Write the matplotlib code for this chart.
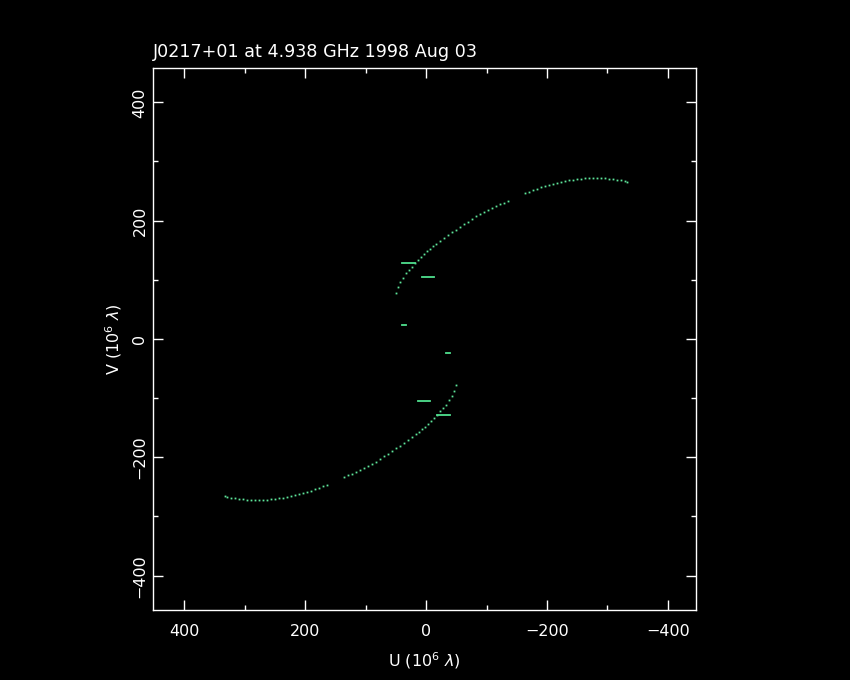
import matplotlib
matplotlib.use("Agg")
import matplotlib.pyplot as plt
from matplotlib.ticker import MultipleLocator

# uv track (upper half), units of 10^6 lambda
u_track = [49.7, 46.4, 43.0, 38.1, 33.1, 28.1, 23.2, 18.2, 13.2, 8.3, 3.3, -1.7,
           -6.6, -11.6, -16.6, -23.2, -29.8, -36.4, -43.0, -49.7, -56.3, -62.9,
           -69.5, -76.2, -82.8, -89.4, -96.0, -102.6, -109.3, -115.9, -122.5,
           -129.1, -135.8,
           -163.9, -170.5, -177.1, -183.8, -190.4, -197.0, -203.6, -210.3, -216.9,
           -223.5, -230.1, -236.8, -243.4, -250.0, -256.6, -263.2, -269.9, -276.5,
           -283.1, -289.7, -296.4, -303.0, -309.6, -316.2, -322.8, -329.5, -332.8]
v_track = [77.8, 88.0, 96.4, 103.2, 111.7, 116.7, 121.8, 128.6, 133.7, 138.7, 143.8, 148.9,
           152.3, 157.4, 160.7, 165.8, 170.9, 176.0, 181.0, 184.4, 189.5, 194.6,
           198.0, 203.0, 208.1, 211.5, 214.9, 218.3, 221.7, 225.0, 228.4,
           230.1, 233.5,
           247.0, 248.7, 252.1, 253.8, 257.2, 258.9, 260.6, 262.3, 264.0,
           265.6, 267.3, 269.0, 269.0, 270.7, 270.7, 272.4, 272.4, 272.4,
           272.4, 272.4, 272.4, 270.7, 270.7, 269.0, 269.0, 267.3, 265.6]

# short baselines, drawn as little horizontal dashes
dash_u1 = [40, 7, 40]
dash_u2 = [18, -13, 33]
dash_v = [129, 105, 24]

title = "J0217+01 at 4.938 GHz 1998 Aug 03"
dot_col = "#5ee69a"
dash_col = "#4fe08e"

fig = plt.figure(figsize=(8.5, 6.8), dpi=100, facecolor="black")
ax = fig.add_axes([0.18, 0.103, 0.639, 0.797], facecolor="black")

# track plus its conjugate (-u, -v)
ax.plot(u_track, v_track, ls="none", marker="s", ms=1.3, mew=0, color=dot_col)
ax.plot([-u for u in u_track], [-v for v in v_track], ls="none", marker="s",
        ms=1.3, mew=0, color=dot_col)
for a, b, v in zip(dash_u1, dash_u2, dash_v):
    ax.plot([a, b], [v, v], color=dash_col, lw=1.3)
    ax.plot([-a, -b], [-v, -v], color=dash_col, lw=1.3)

ax.set_xlim(452, -447)
ax.set_ylim(-458, 458)

ax.xaxis.set_major_locator(MultipleLocator(200))
ax.xaxis.set_minor_locator(MultipleLocator(100))
ax.yaxis.set_major_locator(MultipleLocator(200))
ax.yaxis.set_minor_locator(MultipleLocator(100))
ax.tick_params(which="both", direction="in", top=True, right=True,
               colors="white", labelsize=11.5, width=1)
ax.tick_params(which="major", length=7.5)
ax.tick_params(which="minor", length=3.8)
ax.tick_params(axis="x", which="major", pad=10)
ax.tick_params(axis="y", which="major", pad=4)
for lbl in ax.get_yticklabels():
    lbl.set_rotation(90)
    lbl.set_va("center")
for s in ax.spines.values():
    s.set_color("white")
    s.set_linewidth(1)

ax.set_xlabel(r"U (10$^6$ $\lambda$)", color="white", fontsize=11.5, labelpad=8)
ax.set_ylabel(r"V (10$^6$ $\lambda$)", color="white", fontsize=11.5, labelpad=6)
ax.set_title(title, color="white", fontsize=12.6, loc="left", pad=8)

plt.savefig("out.png", dpi=100, facecolor="black")
